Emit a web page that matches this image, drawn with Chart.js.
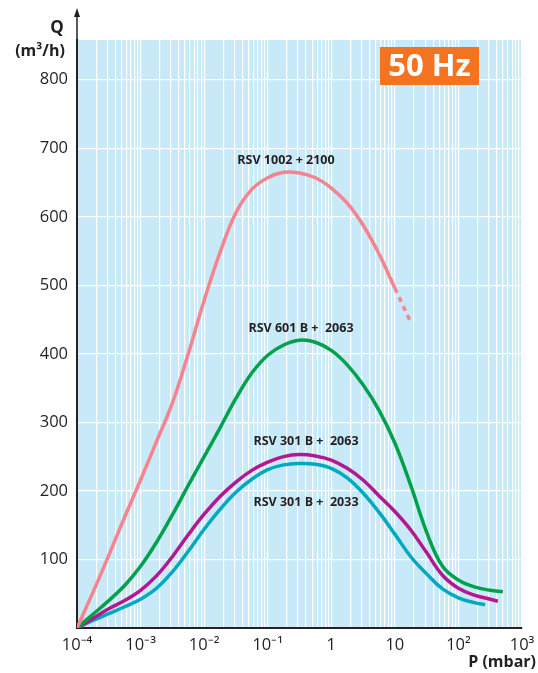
<!DOCTYPE html>
<html>
<head>
<meta charset="utf-8">
<script src="https://cdn.jsdelivr.net/npm/chart.js@4.4.1/dist/chart.umd.min.js"></script>
<style>
  body { margin: 0; background: #fff; }
  #wrap { width: 538px; height: 673px; }
</style>
</head>
<body>
<div id="wrap"><canvas id="pumpChart" width="538" height="673"></canvas></div>
<script>
// pressure (mbar), read every quarter decade
const pGrid = [0.0001, 0.000178, 0.000316, 0.000562, 0.001, 0.00178, 0.00316, 0.00562, 0.01, 0.0178, 0.0316, 0.0562,
  0.1, 0.178, 0.316, 0.562, 1, 1.78, 3.16, 5.62, 10, 17.8, 31.6, 56.2, 100, 178, 316];

// flow Q (m3/h) per pump set
const p1002 = pGrid.slice(0, 21);
const q1002 = [0, 52, 106, 162, 216, 272, 328, 400, 478, 548, 606, 640, 657, 665, 664, 657, 642, 620, 588, 546, 496];
const p1002dash = [10, 17.4];
const q1002dash = [496, 448];

const p601 = pGrid.concat([500]);
const q601 = [0, 20, 40, 62, 90, 125, 165, 208, 250, 292, 335, 372, 398, 413, 420, 417, 405, 384, 355, 318, 270, 208, 140, 90, 70, 60, 55, 53];

const p301a = pGrid.concat([417]);
const q301a = [0, 14, 28, 40, 55, 76, 104, 136, 166, 192, 213, 230, 242, 250, 253, 251, 245, 233, 216, 193, 170, 143, 110, 77, 58, 48, 42, 39];

const p301b = pGrid.slice(0, 26).concat([263]);
const q301b = [0, 11, 21, 31, 42, 58, 82, 112, 144, 173, 198, 217, 231, 238, 240, 239, 233, 219, 197, 169, 137, 104, 79, 57, 44, 37, 34];

const xMajor = { "-4": "10⁻⁴", "-3": "10⁻³", "-2": "10⁻²", "-1": "10⁻¹", "0": "1", "1": "10", "2": "10²", "3": "10³" };
const yTicks = [0, 100, 200, 300, 400, 500, 600, 700, 800];

const curveLabels = [
  { text: "RSV 1002 + 2100", x: 286, y: 160 },
  { text: "RSV 601 B +  2063", x: 301, y: 328 },
  { text: "RSV 301 B +  2063", x: 306, y: 441 },
  { text: "RSV 301 B +  2033", x: 306, y: 502 }
];

function pts(xs, ys) { return xs.map((x, i) => ({ x: x, y: ys[i] })); }

function xTickList() {
  const t = [];
  for (let e = -4; e < 3; e++) {
    for (let s = 1; s < 10; s++) t.push({ value: s * Math.pow(10, e) });
  }
  t.push({ value: 1000 });
  return t;
}

const deco = {
  id: "deco",
  beforeDraw(chart) {
    const { ctx, chartArea: a } = chart;
    ctx.save();
    ctx.fillStyle = "#c8e9f8";
    ctx.fillRect(a.left, a.top, a.right - a.left, a.bottom - a.top);
    ctx.restore();
  },
  afterDraw(chart) {
    const { ctx, chartArea: a } = chart;
    ctx.save();
    // y axis arrow
    ctx.strokeStyle = "#222";
    ctx.lineWidth = 1.5;
    ctx.beginPath();
    ctx.moveTo(a.left, a.top);
    ctx.lineTo(a.left, 14);
    ctx.stroke();
    ctx.fillStyle = "#222";
    ctx.beginPath();
    ctx.moveTo(a.left, 8);
    ctx.lineTo(a.left - 3, 17);
    ctx.lineTo(a.left + 3, 17);
    ctx.closePath();
    ctx.fill();

    // axis titles
    ctx.fillStyle = "#231f20";
    ctx.textBaseline = "middle";
    ctx.textAlign = "center";
    ctx.font = "bold 17px 'Open Sans'";
    ctx.fillText("Q", 57, 28);
    ctx.font = "bold 16px 'Open Sans'";
    ctx.fillText("(m³/h)", 40, 51);
    ctx.textAlign = "right";
    ctx.fillText("P (mbar)", 536, 662);

    // 50 Hz badge
    ctx.fillStyle = "#f47320";
    ctx.fillRect(380, 47, 99, 38);
    ctx.fillStyle = "#fff";
    ctx.textAlign = "center";
    ctx.font = "bold 31px 'Open Sans'";
    ctx.fillText("50 Hz", 429.5, 67);

    // curve names
    ctx.fillStyle = "#231f20";
    ctx.font = "bold 12.5px 'Open Sans'";
    curveLabels.forEach(l => ctx.fillText(l.text, l.x, l.y));
    ctx.restore();
  }
};

const lineBase = { borderWidth: 3.5, pointRadius: 0, fill: false, tension: 0.4, borderCapStyle: "butt" };

new Chart(document.getElementById("pumpChart").getContext("2d"), {
  type: "line",
  data: {
    datasets: [
      { ...lineBase, label: "RSV 1002 + 2100", data: pts(p1002, q1002), borderColor: "#f4858f" },
      { ...lineBase, label: "RSV 1002 + 2100 (ext)", data: pts(p1002dash, q1002dash), borderColor: "#f4858f", borderDash: [5, 5] },
      { ...lineBase, label: "RSV 601 B + 2063", data: pts(p601, q601), borderColor: "#00a14b" },
      { ...lineBase, label: "RSV 301 B + 2063", data: pts(p301a, q301a), borderColor: "#b2188f" },
      { ...lineBase, label: "RSV 301 B + 2033", data: pts(p301b, q301b), borderColor: "#00a9c0" }
    ]
  },
  options: {
    responsive: false,
    animation: false,
    devicePixelRatio: 1,
    layout: { padding: { top: 40, right: 16, left: 0, bottom: 0 } },
    plugins: { legend: { display: false }, tooltip: { enabled: false } },
    scales: {
      x: {
        type: "logarithmic",
        min: 0.0001,
        max: 1000,
        afterBuildTicks: s => { s.ticks = xTickList(); },
        afterFit: s => { s.height = 45; s.paddingRight = 0; s.paddingLeft = 0; },
        grid: { color: "#ffffff", lineWidth: 1.2, drawTicks: false },
        border: { color: "#222", width: 2 },
        ticks: {
          autoSkip: false,
          maxRotation: 0,
          padding: 7,
          color: "#231f20",
          font: { family: "'Open Sans'", size: 16.5 },
          callback: v => {
            const e = Math.round(Math.log10(v));
            return Math.abs(Math.log10(v) - e) < 1e-9 ? xMajor[String(e)] : "";
          }
        }
      },
      y: {
        min: 0,
        max: 858,
        afterBuildTicks: s => { s.ticks = yTicks.map(v => ({ value: v })); },
        afterFit: s => { s.width = 77; },
        grid: { color: "#ffffff", lineWidth: 1.2, drawTicks: false },
        border: { color: "#222", width: 2 },
        ticks: {
          padding: 9,
          color: "#231f20",
          font: { family: "'Open Sans'", size: 16.5 },
          callback: v => (v === 0 ? "" : String(v))
        }
      }
    }
  },
  plugins: [deco]
});
</script>
</body>
</html>
